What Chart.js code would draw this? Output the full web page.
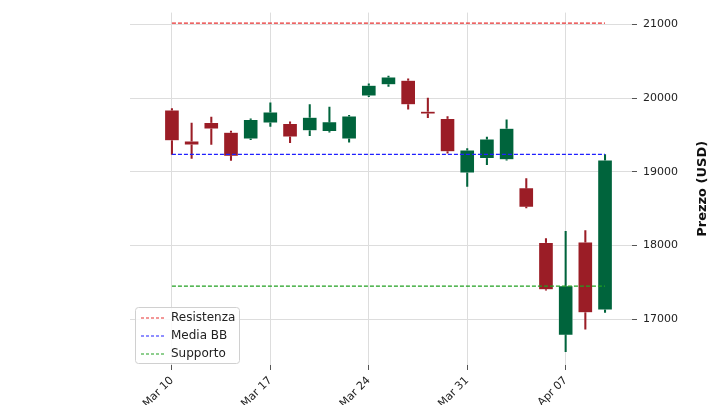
<!DOCTYPE html>
<html><head><meta charset="utf-8">
<script src="https://cdn.jsdelivr.net/npm/chart.js@4"></script>
<style>html,body{margin:0;padding:0;background:#fff}#w{width:720px;height:405px}</style>
</head><body><div id="w"><canvas id="c"></canvas></div>
<script>
const tickLabels = ["Mar 10","Mar 17","Mar 24","Mar 31","Apr 07"];
const tickIdx = [0,5,10,15,20];
const openV  = [19834,19414,19667,19532,19450,19667,19653,19563,19553,19450,20033,20186,20241,19820,19721,18989,19187,19169,18780,18035,16783,18044,17126];
const closeV = [19427,19369,19586,19215,19707,19807,19476,19736,19676,19753,20173,20285,19915,19789,19278,19292,19441,19586,18523,17402,17447,17091,19156];
const highV  = [19860,19662,19743,19553,19720,19938,19680,19915,19879,19767,20196,20300,20263,20001,19749,19315,19472,19708,18908,18094,18193,18203,19234];
const lowV   = [19237,19183,19373,19156,19437,19617,19396,19491,19540,19404,20020,20159,19852,19735,19255,18803,19098,19160,18510,17393,16557,16864,17091];
const resistenza = 21020, mediaBB = 19237, supporto = 17447;
const RED='#9b1d26', GREEN='#00643c';
const n = openV.length;
const col = openV.map((o,i)=> closeV[i]>=o ? GREEN : RED);
const bodies = openV.map((o,i)=>({x:i,y:[o,closeV[i]]}));
const wicks = openV.map((o,i)=>({x:i,y:[lowV[i],highV[i]]}));
const hline = (v)=>[{x:0,y:v},{x:n-1,y:v}];
const legendPlugin = {id:'lg',afterDraw(ch){
  const c=ch.ctx; const items=[['Resistenza','#e83030'],['Media BB','#2020ff'],['Supporto','#20a020']];
  const x=135,y=307,w=104,h=56;
  c.save(); c.fillStyle='rgba(255,255,255,0.85)'; c.strokeStyle='#d0d0d0'; c.lineWidth=1;
  c.beginPath(); c.roundRect(x+0.5,y+0.5,w,h,3); c.fill(); c.stroke();
  c.font='12px "DejaVu Sans"'; c.textBaseline='middle';
  items.forEach((it,k)=>{const yy=y+11+k*18; c.strokeStyle=it[1]; c.setLineDash([3,2]); c.lineWidth=1.2;
    c.beginPath(); c.moveTo(x+6,yy); c.lineTo(x+30,yy); c.stroke(); c.setLineDash([]);
    c.fillStyle='#222'; c.fillText(it[0],x+36,yy);});
  c.save(); c.translate(703,(ch.chartArea.top+ch.chartArea.bottom)/2); c.rotate(-Math.PI/2);
  c.font='bold 13px "DejaVu Sans"'; c.fillStyle='#111'; c.textAlign='center'; c.textBaseline='middle';
  c.fillText('Prezzo (USD)',0,0); c.restore();
  c.restore();}};
new Chart(document.getElementById('c'),{
  type:'bar',
  data:{datasets:[
    {type:'line',label:'Resistenza',data:hline(resistenza),borderColor:'#e83030',borderWidth:1.2,borderDash:[4,2],pointRadius:0},
    {type:'line',label:'Media BB',data:hline(mediaBB),borderColor:'#2020ff',borderWidth:1.2,borderDash:[4,2],pointRadius:0},
    {type:'line',label:'Supporto',data:hline(supporto),borderColor:'#20a020',borderWidth:1.2,borderDash:[4,2],pointRadius:0},
    {label:'wick',data:wicks,backgroundColor:col,barThickness:1.4,grouped:false,order:2},
    {label:'body',data:bodies,backgroundColor:col,borderColor:'rgba(255,255,255,0.5)',borderWidth:0.5,borderSkipped:false,barThickness:14,grouped:false,order:1}
  ]},
  options:{responsive:true,maintainAspectRatio:false,animation:false,
    layout:{padding:{left:130,top:0,right:0,bottom:0}},
    plugins:{legend:{display:false},tooltip:{enabled:false}},
    scales:{
      x:{type:'linear',offset:false,min:-2.13,max:23.37,grid:{offset:false,color:'#dddddd',tickLength:5,tickColor:'#555'},border:{display:false},
        afterBuildTicks(s){s.ticks=tickIdx.map(v=>({value:v}));},
        afterFit(s){s.height=40;},
        ticks:{autoSkip:false,maxRotation:45,minRotation:45,padding:4,color:'#222',font:{family:'DejaVu Sans',size:11},
          callback:(v)=>tickLabels[tickIdx.indexOf(v)]}},
      y:{position:'right',min:16376,max:21163,grid:{color:'#dddddd',tickLength:5,tickColor:'#555'},border:{display:false},
        afterBuildTicks(s){s.ticks=[17000,18000,19000,20000,21000].map(v=>({value:v}));},
        afterFit(s){s.width=88;},
        ticks:{color:'#222',font:{family:'DejaVu Sans',size:11},padding:6,callback:v=>String(v)}}
    }},
  plugins:[legendPlugin]
});
</script></body></html>
